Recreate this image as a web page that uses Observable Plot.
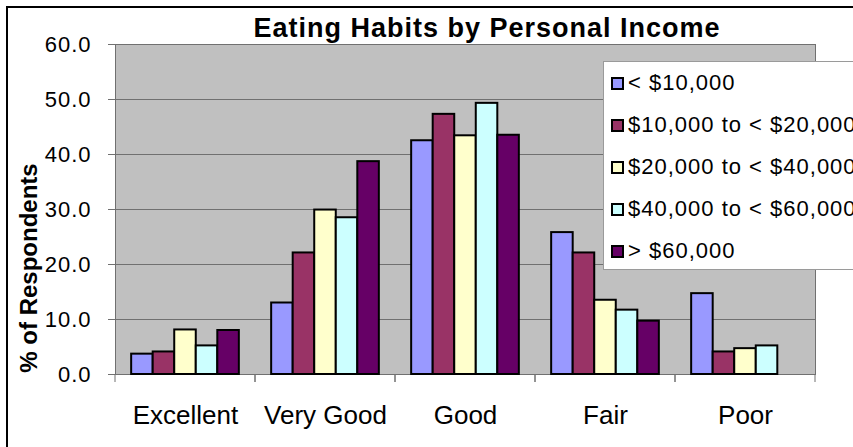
<!DOCTYPE html>
<html>
<head>
<meta charset="utf-8">
<script src="https://cdn.jsdelivr.net/npm/d3@7"></script>
<script src="https://cdn.jsdelivr.net/npm/@observablehq/plot@0.6"></script>
<style>
  html, body { margin: 0; padding: 0; background: #fff; overflow: hidden; }
  #wrap { position: relative; width: 853px; height: 447px; overflow: hidden; font-family: Arial, "Liberation Sans", sans-serif; color: #000; }
  #border { position: absolute; left: 6px; top: 6px; width: 1100px; height: 1100px; border: 2px solid #000; box-sizing: border-box; }
  #plotbg { position: absolute; left: 115px; top: 44px; width: 700px; height: 330px; background: #C0C0C0; }
  #chart { position: absolute; left: 0; top: 0; }
  #chart svg { font-family: Arial, "Liberation Sans", sans-serif; background: transparent; }
  #title { position: absolute; left: 0; width: 974px; top: 13px; text-align: center; font-weight: bold; font-size: 27px; letter-spacing: 1px; line-height: 30px; white-space: nowrap; }
  #ytitle { position: absolute; left: 29px; top: 268px; transform: translate(-50%, -50%) rotate(-90deg); font-weight: bold; font-size: 24px; white-space: nowrap; line-height: 26px; }
  #legend { position: absolute; left: 603px; top: 61px; width: 320px; height: 209px; background: #fff; border-top: 1px solid #9a9a9a; border-left: 1px solid #9a9a9a; border-bottom: 1px solid #9a9a9a; box-sizing: border-box; }
  .row { height: 42px; display: flex; align-items: center; white-space: nowrap; }
  .sw { width: 13px; height: 13px; border: 2px solid #000; box-sizing: border-box; margin-left: 7px; margin-right: 4px; flex: none; }
  .lab { font-size: 22px; letter-spacing: 1px; }
</style>
</head>
<body>
<div id="wrap">
  <div id="border"></div>
  <div id="plotbg"></div>
  <div id="chart"></div>
  <div id="title"></div>
  <div id="ytitle"></div>
  <div id="legend"></div>
</div>
<script>
const titleText = "Eating Habits by Personal Income";
const yTitle = "% of Respondents";
const categories = ["Excellent", "Very Good", "Good", "Fair", "Poor"];
const series = ["< $10,000", "$10,000 to < $20,000", "$20,000 to < $40,000", "$40,000 to < $60,000", "> $60,000"];
const colors = ["#9999FF", "#993366", "#FFFFCC", "#CCFFFF", "#660066"];
const under10k = [3.7, 13.0, 42.5, 25.8, 14.7];
const from10kTo20k = [4.1, 22.1, 47.3, 22.1, 4.1];
const from20kTo40k = [8.1, 29.9, 43.4, 13.5, 4.7];
const from40kTo60k = [5.2, 28.5, 49.3, 11.7, 5.2];
const over60k = [8.0, 38.7, 43.5, 9.7, null];
const yTicks = [0, 10, 20, 30, 40, 50, 60];

const seriesValues = [under10k, from10kTo20k, from20kTo40k, from40kTo60k, over60k];
const data = [];
categories.forEach((c, i) => {
  series.forEach((s, j) => {
    const v = seriesValues[j][i];
    if (v != null) data.push({category: c, series: s, value: v});
  });
});

const gray = "#707070";

// boundary ticks below the axis at each category's edges
const edgeTicks = (index, scales, values, dims) => {
  const g = d3.create("svg:g");
  const y0 = dims.height - dims.marginBottom;
  for (const x of [dims.marginLeft, dims.width - dims.marginRight]) {
    g.append("line").attr("x1", x).attr("x2", x).attr("y1", y0).attr("y2", y0 + 8)
      .attr("stroke", gray).attr("stroke-width", 1);
  }
  return g.node();
};

const firstCat = categories[0];
const lastCat = categories[categories.length - 1];

const chart = Plot.plot({
  width: 853,
  height: 447,
  marginTop: 44,
  marginBottom: 73,
  marginLeft: 115,
  marginRight: 38,
  style: {background: "transparent"},
  fx: {domain: categories, padding: 0, label: null},
  x: {domain: series, paddingInner: 0, paddingOuter: 0.75, axis: null, round: false},
  y: {domain: [0, 60], label: null},
  color: {domain: series, range: colors},
  marks: [
    Plot.gridY(yTicks, {stroke: gray, strokeOpacity: 1, strokeWidth: 1}),
    Plot.frame({anchor: "left", fx: [firstCat], stroke: gray}),
    Plot.frame({anchor: "right", fx: [lastCat], stroke: gray}),
    Plot.barY(data, {fx: "category", x: "series", y: "value", fill: "series", stroke: "#000", strokeWidth: 2}),
    Plot.axisY(yTicks, {anchor: "left", tickFormat: d => d.toFixed(1), tickSize: 7, tickPadding: 17, fontSize: 22, stroke: gray, label: null}),
    Plot.axisFx({anchor: "bottom", tickSize: 0, tickPadding: 31, fontSize: 26, label: null}),
    edgeTicks
  ]
});
document.getElementById("chart").appendChild(chart);
chart.querySelectorAll('[aria-label="y-axis tick label"] text').forEach(t => t.setAttribute("letter-spacing", "1"));

document.getElementById("title").textContent = titleText;
document.getElementById("ytitle").textContent = yTitle;

const legend = d3.select("#legend");
series.forEach((s, i) => {
  const row = legend.append("div").attr("class", "row");
  row.append("div").attr("class", "sw").style("background", colors[i]);
  row.append("span").attr("class", "lab").text(s);
});
</script>
</body>
</html>
